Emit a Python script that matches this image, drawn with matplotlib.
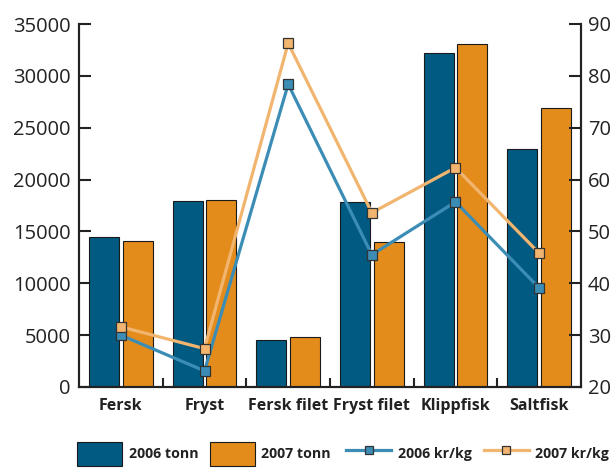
import matplotlib
matplotlib.use("Agg")
import matplotlib.pyplot as plt
import numpy as np
from matplotlib.patches import Patch
from matplotlib.lines import Line2D

categories = ["Fersk", "Fryst", "Fersk filet", "Fryst filet", "Klippfisk", "Saltfisk"]
tonn_2006 = [14450, 17900, 4500, 17800, 32200, 22900]
tonn_2007 = [14050, 18050, 4800, 14000, 33100, 26900]
krkg_2006 = [30.0, 23.1, 78.4, 45.5, 55.7, 39.1]
krkg_2007 = [31.6, 27.4, 86.3, 53.6, 62.3, 45.8]
left_ticks = [0, 5000, 10000, 15000, 20000, 25000, 30000, 35000]
right_ticks = [20, 30, 40, 50, 60, 70, 80, 90]
legend_labels = ["2006 tonn", "2007 tonn", "2006 kr/kg", "2007 kr/kg"]

c_bar06 = "#005a82"
c_bar07 = "#e38c1b"
c_line06 = "#3b8db6"
c_line07 = "#f2b56f"
txt = "#222222"

plt.rcParams['font.family'] = ['Open Sans', 'DejaVu Sans']

fig = plt.figure(figsize=(6.14, 4.68), dpi=100)
ax = fig.add_axes([79/614, 1-387/468, (581-79)/614, (387-24)/468])
ax2 = ax.twinx()

x = np.arange(len(categories))
w = 0.36
ax.bar(x - 0.2, tonn_2006, width=w, color=c_bar06, edgecolor="#1a1a1a", linewidth=0.8, zorder=2)
ax.bar(x + 0.2, tonn_2007, width=w, color=c_bar07, edgecolor="#1a1a1a", linewidth=0.8, zorder=2)

ax2.plot(x, krkg_2006, color=c_line06, lw=2.3, marker="s", ms=7.5, mfc=c_line06, mec="#333333", mew=0.9, zorder=3)
ax2.plot(x, krkg_2007, color=c_line07, lw=2.3, marker="s", ms=7.5, mfc=c_line07, mec="#333333", mew=0.9, zorder=3)

ax.set_xlim(-0.5, len(categories) - 0.5)
ax.set_ylim(0, 35000)
ax2.set_ylim(20, 90)

ax.set_yticks(left_ticks)
ax.set_yticklabels([str(t) for t in left_ticks])
ax2.set_yticks(right_ticks)
ax2.set_yticklabels([str(t) for t in right_ticks])

ax.set_xticks(x)
ax.set_xticklabels(categories, fontsize=11.5, fontweight="bold", color=txt)
ax.set_xticks(np.arange(0.5, len(categories) - 0.5, 1), minor=True)
ax.tick_params(axis="x", which="major", length=0, pad=8)
ax.tick_params(axis="x", which="minor", direction="in", length=6.5, width=1.5, color="#222222")

ax.tick_params(axis="y", direction="in", length=8.5, width=1.5, labelsize=14.5, labelcolor=txt, pad=6, color="#222222")
ax2.tick_params(axis="y", direction="in", length=8.5, width=1.5, labelsize=14.5, labelcolor=txt, pad=5, color="#222222")

for a in (ax, ax2):
    a.spines["top"].set_visible(False)
    for s in ("left", "right", "bottom"):
        a.spines[s].set_linewidth(1.5)
        a.spines[s].set_color("#222222")

ax.set_zorder(1)
ax2.set_zorder(2)
ax.patch.set_visible(False)

bar_handles = [
    Patch(facecolor=c_bar06, edgecolor="#1a1a1a", linewidth=0.8),
    Patch(facecolor=c_bar07, edgecolor="#1a1a1a", linewidth=0.8),
]
line_handles = [
    Line2D([0], [0], color=c_line06, lw=2.3, marker="s", ms=6, mfc=c_line06, mec="#333333", mew=0.9),
    Line2D([0], [0], color=c_line07, lw=2.3, marker="s", ms=6, mfc=c_line07, mec="#333333", mew=0.9),
]
common = dict(loc="upper left", ncol=2, frameon=False, borderpad=0, borderaxespad=0,
              handlelength=3.2, handleheight=2.3, handletextpad=0.45,
              prop={"weight": "bold", "size": 10.2})
leg1 = fig.legend(bar_handles, legend_labels[:2], bbox_to_anchor=(77/614, 1-441.7/468),
                  columnspacing=0.8, **common)
leg2 = fig.legend(line_handles, legend_labels[2:], bbox_to_anchor=(346/614, 1-441.7/468),
                  columnspacing=0.85, **common)
for lg in (leg1, leg2):
    for t in lg.get_texts():
        t.set_color(txt)

fig.savefig("out.png", dpi=100)
